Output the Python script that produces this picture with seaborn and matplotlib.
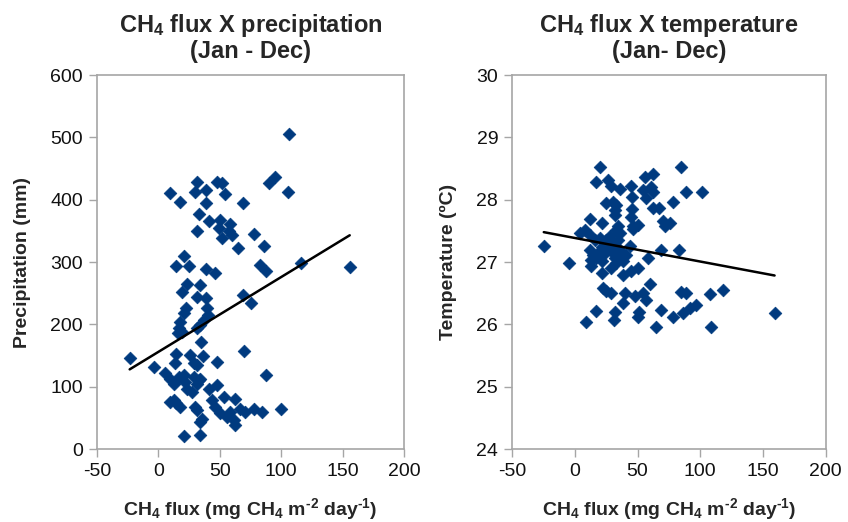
import numpy as np
import pandas as pd
import seaborn as sns
import matplotlib.pyplot as plt

# flux vs precipitation (left panel)
flux_p = [31.5, 47.8, 51.9, 9.8, 30.1, 39.1, 54.6, 17.3, 39.1, 68.6, 89.8, 95.3,
          32.8, 41.0, 49.9, 58.6, 49.1, 57.2, 51.9, 60.0, 31.5, 77.6, 64.6, 85.7,
          20.6, 14.7, 24.7, 39.1, 46.4, 83.1, 87.7, 23.4, 33.6,
          106.7, 105.6, 116.4, 155.8, 84.4, 99.9, 88.0,
          19.3, 31.5, 39.1, 68.6, 75.5, 22.8, 20.6, 39.7, 40.1, 37.5, 34.2, 31.5,
          17.9, 16.5, 19.3, 15.7, -23.4, -3.8, 34.8, 70.0, 14.7, 25.5, 36.4, 47.8,
          13.8, 28.7, 31.5, 5.7, 9.8, 12.5, 16.5, 20.6, 22.0, 23.4, 27.4, 28.7,
          32.8, 31.5, 34.2, 41.0, 47.8, 12.5, 17.9, 9.8, 30.1, 31.5, 43.7, 46.4,
          53.2, 62.7, 50.5, 58.6, 55.9, 61.3, 62.7, 66.8, 70.8, 77.6, 35.6, 33.6,
          20.6, 33.6, 14.7]
precip = [429, 429, 426, 410, 413, 416, 409, 397, 395, 394, 426, 437,
          377, 366, 368, 361, 354, 349, 339, 343, 349, 345, 323, 325,
          310, 294, 293, 288, 283, 295, 285, 265, 263,
          506, 413, 299, 292, 59, 64, 118,
          252, 244, 242, 247, 235, 226, 218, 226, 215, 207, 199, 194,
          204, 194, 188, 186, 146, 131, 171, 158, 152, 151, 149, 140,
          138, 138, 135, 122, 113, 105, 116, 119, 108, 97, 92, 116,
          111, 105, 113, 96, 103, 79, 68, 76, 68, 63, 79, 68,
          84, 80, 57, 60, 52, 46, 38, 65, 60, 65, 48, 44,
          21, 22, 74]

# flux vs temperature (right panel)
flux_t = [19.9, 85.0, 16.7, 26.5, 29.2, 35.8, 45.1, 55.7, 62.3, 54.4, 61.1, 62.3,
          57.1, 45.9, 88.9, 101.7, 25.2, 30.5, 33.2, 31.8, 45.9, 62.3, 67.1, 78.3,
          31.8, 45.1, 11.9, 21.3, 34.5, 33.2, 46.4, 50.4, 70.3, 75.6, 71.7, 46.4,
          4.0, 8.0, 11.9, -24.7, 15.9, 19.9, 25.2, 27.9, 30.5, 34.5, 35.8, 43.8,
          11.9, 14.6, 18.6, 13.3, 17.3, 21.3, 23.9, 26.5, 29.2, 33.2, 37.2, 31.8,
          38.5, 41.2, 69.0, 83.1, 58.4, -4.8, 13.3, 21.3, 29.2, 33.2, 38.5, 38.5,
          45.1, 50.4, 59.7, 22.5, 29.2, 39.8, 38.5, 47.8, 54.4, 57.1, 51.2, 50.4,
          85.0, 88.9, 107.5, 17.3, 31.8, 31.0, 9.3, 69.0, 78.3, 86.2, 91.6, 96.9,
          65.0, 108.8, 118.1, 159.2, 25.2, 21.3, 36.4]
temp = [28.52, 28.52, 28.29, 28.31, 28.22, 28.17, 28.22, 28.36, 28.42, 28.16, 28.21, 28.13,
        28.02, 28.04, 28.13, 28.13, 27.94, 27.97, 27.92, 27.84, 27.85, 27.86, 27.86, 27.97,
        27.76, 27.72, 27.69, 27.63, 27.58, 27.52, 27.58, 27.60, 27.65, 27.63, 27.57, 27.53,
        27.46, 27.52, 27.44, 27.26, 27.35, 27.38, 27.35, 27.41, 27.30, 27.35, 27.46, 27.26,
        27.19, 27.11, 27.14, 27.03, 27.06, 27.01, 27.14, 27.22, 27.17, 27.19, 27.14, 27.06,
        27.09, 27.11, 27.19, 27.19, 27.06, 26.98, 26.93, 26.82, 26.90, 26.98, 27.01, 26.79,
        26.85, 26.90, 26.65, 26.58, 26.50, 26.51, 26.34, 26.46, 26.50, 26.39, 26.20, 26.12,
        26.52, 26.50, 26.49, 26.22, 26.20, 26.07, 26.04, 26.23, 26.12, 26.18, 26.26, 26.31,
        25.95, 25.96, 26.55, 26.19, 26.53, 27.24, 27.20]

df_p = pd.DataFrame({"flux": flux_p, "precip": precip})
df_t = pd.DataFrame({"flux": flux_t, "temp": temp})

sns.set_style("white")
plt.rcParams["font.family"] = ["Liberation Sans", "DejaVu Sans"]
plt.rcParams["axes.unicode_minus"] = False
plt.rcParams["mathtext.fontset"] = "custom"
plt.rcParams["mathtext.rm"] = "Liberation Sans:bold"
plt.rcParams["mathtext.bf"] = "Liberation Sans:bold"
plt.rcParams["mathtext.default"] = "bf"

blue = "#003A7F"
gray = "#A6A6A6"
xlab = r"CH$_4$ flux (mg CH$_4$ m$^{\text{-2}}$ day$^{\text{-1}}$)"

fig = plt.figure(figsize=(8.48, 5.22), dpi=100)
ax1 = fig.add_axes([0.1144, 0.1398, 0.362, 0.7165])
ax2 = fig.add_axes([0.6038, 0.1398, 0.370, 0.7165])

panels = [
    (ax1, df_p, "precip", r"CH$_4$ flux X precipitation" + "\n(Jan - Dec)",
     "Precipitation (mm)", (0, 600), np.arange(0, 601, 100)),
    (ax2, df_t, "temp", r"CH$_4$ flux X temperature" + "\n(Jan- Dec)",
     "Temperature (ºC)", (24, 30), np.arange(24, 31, 1)),
]

for ax, d, ycol, title, ylab, ylim, yticks in panels:
    sns.scatterplot(data=d, x="flux", y=ycol, ax=ax, marker="D", s=42,
                    color=blue, edgecolor=blue, linewidth=0.5, zorder=2)
    sns.regplot(data=d, x="flux", y=ycol, ax=ax, scatter=False, ci=None,
                truncate=True, line_kws={"color": "black", "lw": 1.8, "zorder": 3})
    ax.set_xlim(-50, 200)
    ax.set_ylim(*ylim)
    ax.set_xticks(np.arange(-50, 201, 50))
    ax.set_yticks(yticks)
    for sp in ax.spines.values():
        sp.set_color(gray)
        sp.set_linewidth(1.2)
    ax.tick_params(axis="both", which="both", direction="out", length=6,
                   width=1, color=gray, labelsize=14, labelcolor="#111111", pad=4,
                   bottom=True, left=True)
    ax.set_title(title, fontsize=17, fontweight="bold", pad=12, linespacing=1.1)
    ax.set_xlabel(xlab, fontsize=14, fontweight="bold", labelpad=12)
    ax.set_ylabel(ylab, fontsize=14, fontweight="bold", labelpad=14)

fig.savefig("out.png", dpi=100)
